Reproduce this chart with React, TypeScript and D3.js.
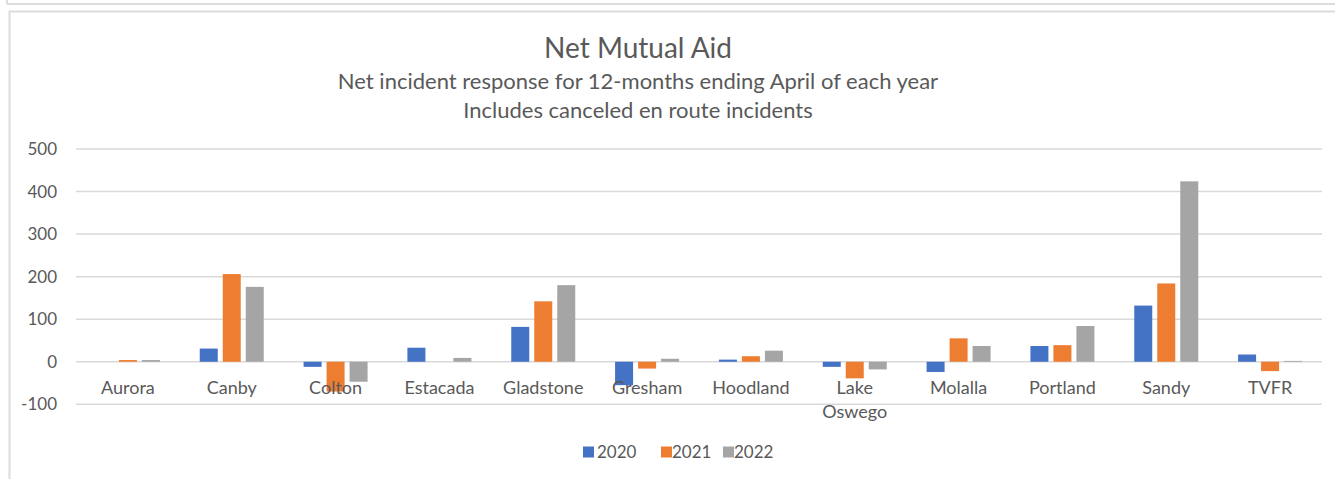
import React from "react";
import * as d3 from "d3";

const categories = ["Aurora", "Canby", "Colton", "Estacada", "Gladstone", "Gresham", "Hoodland", "Lake Oswego", "Molalla", "Portland", "Sandy", "TVFR"];
const seriesNames = ["2020", "2021", "2022"];
const values2020 = [0, 31, -12, 33, 82, -55, 5, -12, -24, 37, 132, 17];
const values2021 = [4, 206, -70, 0, 142, -16, 13, -39, 55, 39, 184, -22];
const values2022 = [4, 176, -47, 9, 180, 7, 26, -18, 37, 84, 424, 2];
const yTicks = [-100, 0, 100, 200, 300, 400, 500];
const colors = ["#4472C4", "#ED7D31", "#A5A5A5"];

const W = 1335;
const H = 479;
const FONT = "Lato, 'Open Sans', sans-serif";
const TXT = "#595959";

export default function App() {
  const series = [values2020, values2021, values2022];
  const x = d3.scaleBand<string>().domain(categories).range([76, 1322]).padding(0);
  const xi = d3.scaleBand<string>().domain(seriesNames).range([-32, 32]).paddingInner(5 / 23).paddingOuter(0);
  const y = d3.scaleLinear().domain([-100, 500]).range([404.3, 149]);

  const legendItems = [
    { name: "2020", sx: 583, tx: 597 },
    { name: "2021", sx: 661, tx: 672 },
    { name: "2022", sx: 723, tx: 734 },
  ];

  return (
    <svg width={W} height={H} style={{ position: "absolute", left: 0, top: 0, background: "#fff" }} fontFamily={FONT}>
      <rect x={0} y={0} width={W} height={H} fill="#fff" />
      {/* frames */}
      <line x1={7} x2={W} y1={4} y2={4} stroke="#dcdcdc" strokeWidth={2} />
      <line x1={7} x2={7} y1={0} y2={4} stroke="#dcdcdc" strokeWidth={2} />
      <line x1={9} x2={W} y1={11.5} y2={11.5} stroke="#dcdcdc" strokeWidth={2} />
      <line x1={9.5} x2={9.5} y1={11} y2={H} stroke="#dcdcdc" strokeWidth={2} />

      {/* titles */}
      <text x={638} y={58} textAnchor="middle" fontSize={28} fill={TXT}>Net Mutual Aid</text>
      <text x={638} y={89} textAnchor="middle" fontSize={22} fill={TXT}>Net incident response for 12-months ending April of each year</text>
      <text x={638} y={118} textAnchor="middle" fontSize={22} fill={TXT}>Includes canceled en route incidents</text>

      {/* grid */}
      {yTicks.map((t) => (
        <g key={t}>
          <line x1={76} x2={1322} y1={y(t)} y2={y(t)} stroke="#d9d9d9" strokeWidth={1.5} />
          <text x={57} y={y(t)} dy="0.35em" textAnchor="end" fontSize={17} fill={TXT}>{t}</text>
        </g>
      ))}

      {/* bars */}
      {categories.map((c, i) => (
        <g key={c} transform={`translate(${(x(c) as number) + x.bandwidth() / 2},0)`}>
          {seriesNames.map((s, j) => {
            const v = series[j][i];
            const y0 = y(0);
            const yv = y(v);
            return (
              <rect key={s} x={xi(s) as number} width={xi.bandwidth()} y={Math.min(y0, yv)} height={Math.abs(y0 - yv)} fill={colors[j]} />
            );
          })}
        </g>
      ))}

      {/* category labels */}
      {categories.map((c) => {
        const cx = (x(c) as number) + x.bandwidth() / 2;
        const parts = c === "Lake Oswego" ? ["Lake", "Oswego"] : [c];
        return (
          <text key={c} x={cx} y={394} textAnchor="middle" fontSize={18} fill={TXT}>
            {parts.map((p, k) => (
              <tspan key={k} x={cx} dy={k === 0 ? 0 : 24}>{p}</tspan>
            ))}
          </text>
        );
      })}

      {/* legend */}
      {legendItems.map((l, j) => (
        <g key={l.name}>
          <rect x={l.sx} y={446.5} width={11} height={11} fill={colors[j]} />
          <text x={l.tx} y={458} fontSize={17} fill={TXT}>{l.name}</text>
        </g>
      ))}
    </svg>
  );
}
